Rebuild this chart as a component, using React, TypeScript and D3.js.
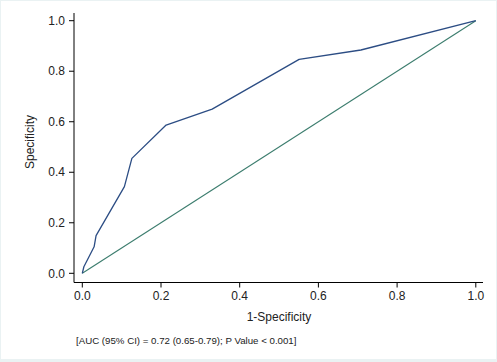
import React from "react";
import * as d3 from "d3";

const rocX = [0, 0.004, 0.03, 0.035, 0.107, 0.126, 0.213, 0.33, 0.551, 0.708, 1];
const rocY = [0, 0.026, 0.105, 0.149, 0.343, 0.455, 0.587, 0.65, 0.847, 0.884, 1];
const refLine = [0, 1];
const ticks = [0, 0.2, 0.4, 0.6, 0.8, 1.0];
const xLabel = "1-Specificity";
const yLabel = "Specificity";
const footnote = "[AUC (95% CI) = 0.72 (0.65-0.79); P Value < 0.001]";

const W = 497;
const H = 362;

export default function App() {
  const x = d3.scaleLinear().domain([0, 1]).range([82.3, 475.8]);
  const y = d3.scaleLinear().domain([0, 1]).range([273.3, 20.7]);
  const line = d3
    .line<number>()
    .x((_, i) => x(rocX[i]))
    .y((d) => y(d));
  const refPath = d3
    .line<number>()
    .x((d) => x(d))
    .y((d) => y(d));
  const font = "'Liberation Sans', Arial, sans-serif";
  const axX = 74;
  const axY = 282.5;
  return (
    <svg
      width={W}
      height={H}
      style={{ position: "absolute", left: 0, top: 0, display: "block" }}
    >
      <rect x={0} y={0} width={W} height={H} fill="#eaf2f3" />
      <rect x={1} y={1} width={W - 2} height={H - 4} fill="#ffffff" />
      {/* axes */}
      <line x1={axX} x2={axX} y1={13} y2={axY} stroke="#000" strokeWidth={1} />
      <line x1={axX} x2={483} y1={axY} y2={axY} stroke="#000" strokeWidth={1} />
      {ticks.map((t) => (
        <g key={"y" + t}>
          <line x1={axX - 5} x2={axX} y1={y(t)} y2={y(t)} stroke="#000" strokeWidth={1} />
          <text
            x={65}
            y={y(t)}
            dy="0.35em"
            textAnchor="end"
            fontFamily={font}
            fontSize={12}
            fill="#222"
          >
            {t.toFixed(1)}
          </text>
        </g>
      ))}
      {ticks.map((t) => (
        <g key={"x" + t}>
          <line x1={x(t)} x2={x(t)} y1={axY} y2={axY + 5} stroke="#000" strokeWidth={1} />
          <text
            x={x(t)}
            y={300}
            textAnchor="middle"
            fontFamily={font}
            fontSize={12}
            fill="#222"
          >
            {t.toFixed(1)}
          </text>
        </g>
      ))}
      <text
        x={279}
        y={321}
        textAnchor="middle"
        fontFamily={font}
        fontSize={12}
        fill="#222"
      >
        {xLabel}
      </text>
      <text
        transform={`translate(34,142) rotate(-90)`}
        textAnchor="middle"
        fontFamily={font}
        fontSize={12}
        fill="#222"
      >
        {yLabel}
      </text>
      <text x={76} y={343.5} fontFamily={font} fontSize={9.7} fill="#222">
        {footnote}
      </text>
      {/* reference line */}
      <path d={refPath(refLine) || ""} fill="none" stroke="#3c7d6e" strokeWidth={1.1} />
      {/* ROC curve */}
      <path d={line(rocY) || ""} fill="none" stroke="#2c4d84" strokeWidth={1.3} strokeLinejoin="round" />
    </svg>
  );
}
